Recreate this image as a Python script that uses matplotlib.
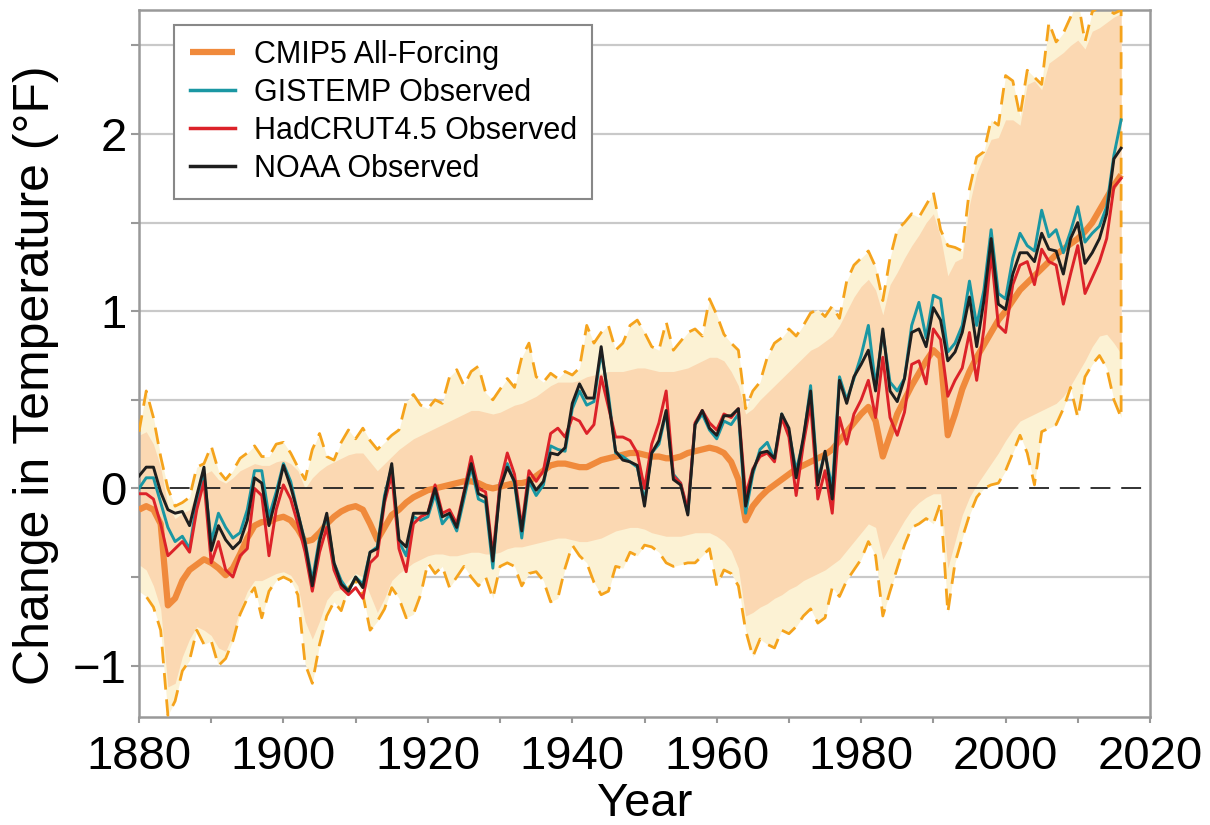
import numpy as np
import matplotlib.pyplot as plt
from matplotlib.ticker import FixedLocator

plt.rcParams['font.family'] = ['Liberation Sans', 'DejaVu Sans']

years = np.arange(1880, 2017)

# CMIP5 all-forcing multi-model mean (deg F)
cmip5_mean = [
    -0.12, -0.10, -0.12, -0.20, -0.66, -0.62, -0.52, -0.46, -0.43, -0.40,
    -0.42, -0.45, -0.49, -0.45, -0.37, -0.28, -0.21, -0.19, -0.19, -0.17,
    -0.16, -0.18, -0.23, -0.30, -0.29, -0.25, -0.20, -0.16, -0.13, -0.11,
    -0.10, -0.12, -0.20, -0.29, -0.22, -0.15, -0.12, -0.08, -0.05, -0.03,
    -0.01, 0.00, 0.01, 0.02, 0.03, 0.04, 0.04, 0.03, 0.01, 0.00,
    0.01, 0.02, 0.03, 0.03, 0.04, 0.07, 0.10, 0.13, 0.14, 0.14,
    0.13, 0.12, 0.12, 0.14, 0.16, 0.17, 0.18, 0.19, 0.20, 0.20,
    0.19, 0.18, 0.18, 0.17, 0.17, 0.18, 0.20, 0.21, 0.22, 0.23,
    0.22, 0.20, 0.15, 0.05, -0.18, -0.10, -0.05, -0.01, 0.02, 0.05,
    0.08, 0.11, 0.13, 0.15, 0.17, 0.19, 0.22, 0.27, 0.32, 0.37,
    0.42, 0.46, 0.38, 0.18, 0.30, 0.42, 0.50, 0.58, 0.65, 0.72,
    0.78, 0.74, 0.30, 0.42, 0.56, 0.66, 0.74, 0.81, 0.88, 0.95,
    1.00, 1.06, 1.12, 1.16, 1.20, 1.24, 1.28, 1.32, 1.35, 1.38,
    1.41, 1.45, 1.50, 1.57, 1.64, 1.71, 1.77,
]

# inner model range (shaded peach)
cmip5_hi = [
    0.30, 0.32, 0.25, 0.12, -0.10, -0.17, -0.14, -0.12, -0.02, 0.08,
    0.10, 0.05, 0.03, 0.06, 0.10, 0.12, 0.14, 0.13, 0.13, 0.15,
    0.16, 0.14, 0.10, 0.00, 0.06, 0.10, 0.13, 0.15, 0.17, 0.19,
    0.20, 0.20, 0.15, 0.10, 0.14, 0.18, 0.22, 0.25, 0.28, 0.30,
    0.32, 0.34, 0.36, 0.38, 0.40, 0.42, 0.44, 0.44, 0.43, 0.42,
    0.43, 0.45, 0.47, 0.48, 0.50, 0.52, 0.55, 0.58, 0.60, 0.60,
    0.60, 0.61, 0.63, 0.64, 0.65, 0.66, 0.66, 0.66, 0.67, 0.68,
    0.68, 0.67, 0.66, 0.66, 0.66, 0.67, 0.68, 0.70, 0.72, 0.74,
    0.74, 0.72, 0.66, 0.58, 0.42, 0.45, 0.50, 0.54, 0.58, 0.62,
    0.66, 0.70, 0.74, 0.78, 0.80, 0.83, 0.86, 0.92, 1.00, 1.08,
    1.14, 1.18, 1.12, 0.98, 1.15, 1.22, 1.30, 1.37, 1.43, 1.50,
    1.55, 1.42, 1.20, 1.28, 1.30, 1.60, 1.78, 1.88, 1.97, 1.98,
    2.08, 2.08, 2.05, 2.28, 2.30, 2.25, 2.40, 2.43, 2.46, 2.50,
    2.53, 2.48, 2.58, 2.60, 2.63, 2.66, 2.68,
]
cmip5_lo = [
    -0.43, -0.46, -0.55, -0.68, -1.12, -1.10, -0.95, -0.85, -0.78, -0.80,
    -0.83, -0.90, -0.92, -0.82, -0.68, -0.58, -0.52, -0.52, -0.50, -0.48,
    -0.47, -0.49, -0.55, -0.75, -0.85, -0.75, -0.63, -0.58, -0.57, -0.52,
    -0.48, -0.50, -0.60, -0.70, -0.62, -0.52, -0.48, -0.45, -0.42, -0.40,
    -0.38, -0.37, -0.37, -0.38, -0.38, -0.37, -0.36, -0.36, -0.37, -0.37,
    -0.36, -0.34, -0.33, -0.33, -0.32, -0.31, -0.30, -0.29, -0.28, -0.28,
    -0.29, -0.30, -0.30, -0.29, -0.28, -0.26, -0.24, -0.23, -0.22, -0.22,
    -0.23, -0.25, -0.26, -0.27, -0.27, -0.27, -0.26, -0.25, -0.25, -0.25,
    -0.27, -0.30, -0.35, -0.45, -0.72, -0.70, -0.67, -0.65, -0.62, -0.60,
    -0.57, -0.55, -0.52, -0.50, -0.48, -0.46, -0.43, -0.40, -0.35, -0.30,
    -0.25, -0.20, -0.22, -0.40, -0.32, -0.25, -0.18, -0.12, -0.08, -0.05,
    -0.03, -0.03, -0.45, -0.30, -0.15, -0.05, 0.02, 0.08, 0.14, 0.20,
    0.27, 0.33, 0.38, 0.40, 0.42, 0.44, 0.46, 0.48, 0.52, 0.58,
    0.65, 0.72, 0.80, 0.86, 0.87, 0.82, 0.76,
]

# full model envelope (dashed)
cmip5_max = [
    0.32, 0.55, 0.40, 0.18, 0.00, -0.10, -0.08, -0.05, 0.12, 0.14,
    0.24, 0.10, 0.05, 0.10, 0.17, 0.20, 0.24, 0.18, 0.18, 0.25,
    0.26, 0.20, 0.12, 0.05, 0.22, 0.31, 0.18, 0.16, 0.26, 0.33,
    0.28, 0.34, 0.27, 0.22, 0.26, 0.30, 0.33, 0.49, 0.53, 0.47,
    0.45, 0.50, 0.48, 0.63, 0.67, 0.58, 0.66, 0.69, 0.54, 0.50,
    0.56, 0.62, 0.57, 0.74, 0.82, 0.63, 0.60, 0.65, 0.62, 0.66,
    0.64, 0.68, 0.92, 0.82, 0.88, 0.92, 0.78, 0.82, 0.92, 0.95,
    0.88, 0.80, 0.78, 0.94, 0.78, 0.83, 0.88, 0.90, 0.86, 1.07,
    0.98, 0.87, 0.82, 0.78, 0.45, 0.55, 0.60, 0.74, 0.82, 0.85,
    0.90, 0.86, 0.92, 0.99, 1.01, 0.97, 1.03, 0.96, 1.17, 1.26,
    1.30, 1.34, 1.25, 1.06, 1.30, 1.46, 1.50, 1.55, 1.53, 1.60,
    1.67, 1.46, 1.37, 1.36, 1.34, 1.69, 1.87, 1.90, 2.08, 2.05,
    2.33, 2.30, 2.10, 2.36, 2.32, 2.28, 2.63, 2.52, 2.57, 2.66,
    2.76, 2.52, 2.69, 2.72, 2.71, 2.68, 2.70,
]
cmip5_min = [
    -0.58, -0.61, -0.67, -0.80, -1.28, -1.20, -1.03, -0.97, -0.80, -0.88,
    -0.86, -1.00, -0.96, -0.86, -0.71, -0.62, -0.56, -0.73, -0.58, -0.52,
    -0.50, -0.52, -0.60, -0.99, -1.10, -0.88, -0.72, -0.64, -0.69, -0.56,
    -0.52, -0.60, -0.80, -0.75, -0.68, -0.56, -0.62, -0.73, -0.71, -0.60,
    -0.42, -0.48, -0.44, -0.56, -0.50, -0.44, -0.50, -0.55, -0.50, -0.62,
    -0.44, -0.42, -0.44, -0.55, -0.48, -0.47, -0.52, -0.64, -0.62, -0.45,
    -0.32, -0.38, -0.42, -0.53, -0.60, -0.58, -0.44, -0.45, -0.36, -0.38,
    -0.32, -0.33, -0.36, -0.42, -0.44, -0.43, -0.42, -0.42, -0.38, -0.34,
    -0.55, -0.46, -0.48, -0.55, -0.80, -0.95, -0.85, -0.88, -0.90, -0.80,
    -0.82, -0.78, -0.72, -0.68, -0.76, -0.73, -0.56, -0.61, -0.52, -0.46,
    -0.40, -0.30, -0.38, -0.72, -0.58, -0.45, -0.32, -0.22, -0.20, -0.17,
    -0.20, -0.08, -0.70, -0.42, -0.28, -0.15, -0.05, 0.00, 0.02, 0.03,
    0.10, 0.20, 0.30, 0.20, 0.02, 0.32, 0.34, 0.36, 0.45, 0.57,
    0.40, 0.63, 0.70, 0.75, 0.68, 0.50, 0.40,
]

gistemp = [
    0.00, 0.06, 0.06, -0.08, -0.22, -0.30, -0.27, -0.34, -0.08, 0.08,
    -0.30, -0.14, -0.22, -0.28, -0.25, -0.12, 0.10, 0.10, -0.16, -0.02,
    0.14, 0.04, -0.14, -0.30, -0.52, -0.28, -0.16, -0.42, -0.52, -0.58,
    -0.50, -0.54, -0.36, -0.33, -0.04, 0.12, -0.30, -0.38, -0.16, -0.18,
    -0.16, -0.03, -0.20, -0.15, -0.24, -0.06, 0.12, -0.06, -0.08, -0.45,
    0.03, 0.14, 0.03, -0.28, 0.04, -0.04, 0.02, 0.24, 0.22, 0.21,
    0.45, 0.55, 0.47, 0.49, 0.77, 0.53, 0.20, 0.18, 0.15, 0.12,
    -0.07, 0.20, 0.25, 0.43, 0.08, 0.03, -0.14, 0.36, 0.42, 0.33,
    0.28, 0.38, 0.36, 0.42, -0.14, 0.08, 0.22, 0.26, 0.16, 0.42,
    0.32, 0.10, 0.27, 0.58, 0.05, 0.20, 0.00, 0.63, 0.50, 0.62,
    0.75, 0.92, 0.58, 0.88, 0.60, 0.55, 0.62, 0.92, 1.05, 0.85,
    1.09, 1.07, 0.77, 0.82, 0.92, 1.17, 0.92, 1.12, 1.46, 1.10,
    1.07, 1.30, 1.44, 1.37, 1.34, 1.57, 1.42, 1.46, 1.33, 1.45,
    1.59, 1.39, 1.44, 1.48, 1.59, 1.88, 2.08,
]

hadcrut = [
    -0.03, -0.03, -0.06, -0.20, -0.38, -0.34, -0.30, -0.36, -0.12, 0.04,
    -0.42, -0.30, -0.46, -0.50, -0.38, -0.34, 0.00, -0.04, -0.38, -0.12,
    0.02, -0.06, -0.20, -0.36, -0.58, -0.36, -0.22, -0.46, -0.56, -0.60,
    -0.56, -0.62, -0.42, -0.38, -0.08, 0.08, -0.34, -0.47, -0.20, -0.16,
    -0.14, 0.02, -0.14, -0.12, -0.20, -0.02, 0.18, 0.00, -0.02, -0.38,
    0.03, 0.20, 0.08, -0.22, 0.10, 0.04, 0.10, 0.31, 0.34, 0.29,
    0.40, 0.38, 0.31, 0.36, 0.63, 0.46, 0.29, 0.29, 0.27, 0.20,
    0.00, 0.25, 0.37, 0.55, 0.07, 0.03, -0.12, 0.37, 0.44, 0.37,
    0.33, 0.42, 0.40, 0.45, -0.04, 0.11, 0.18, 0.20, 0.15, 0.40,
    0.29, -0.04, 0.25, 0.48, -0.06, 0.10, -0.14, 0.40, 0.25, 0.42,
    0.50, 0.61, 0.40, 0.74, 0.40, 0.30, 0.43, 0.70, 0.72, 0.59,
    0.90, 0.84, 0.52, 0.61, 0.68, 0.88, 0.61, 0.90, 1.33, 0.92,
    0.88, 1.15, 1.26, 1.28, 1.15, 1.35, 1.28, 1.26, 1.04, 1.21,
    1.37, 1.10, 1.19, 1.28, 1.41, 1.70, 1.75,
]

noaa = [
    0.07, 0.12, 0.12, -0.02, -0.12, -0.14, -0.13, -0.21, -0.04, 0.12,
    -0.35, -0.21, -0.29, -0.34, -0.30, -0.18, 0.06, 0.03, -0.21, -0.05,
    0.13, 0.01, -0.14, -0.31, -0.55, -0.30, -0.14, -0.42, -0.54, -0.58,
    -0.50, -0.56, -0.36, -0.34, -0.06, 0.14, -0.29, -0.33, -0.14, -0.14,
    -0.14, 0.00, -0.16, -0.14, -0.22, -0.03, 0.14, -0.03, -0.05, -0.41,
    0.00, 0.12, 0.04, -0.24, 0.06, -0.01, 0.04, 0.20, 0.19, 0.23,
    0.48, 0.59, 0.51, 0.51, 0.80, 0.50, 0.21, 0.16, 0.15, 0.13,
    -0.10, 0.20, 0.27, 0.44, 0.05, 0.02, -0.15, 0.36, 0.44, 0.34,
    0.30, 0.41, 0.41, 0.45, -0.10, 0.10, 0.20, 0.21, 0.17, 0.42,
    0.34, 0.06, 0.29, 0.55, 0.02, 0.21, -0.06, 0.61, 0.48, 0.63,
    0.70, 0.78, 0.55, 0.90, 0.55, 0.49, 0.62, 0.88, 0.90, 0.80,
    1.02, 0.95, 0.72, 0.77, 0.88, 1.08, 0.80, 1.06, 1.41, 1.04,
    1.01, 1.21, 1.33, 1.33, 1.28, 1.44, 1.35, 1.34, 1.21, 1.41,
    1.50, 1.27, 1.33, 1.41, 1.55, 1.86, 1.92,
]

fig = plt.figure(figsize=(12.1, 8.25), dpi=100)
ax = fig.add_axes([139 / 1210, 1 - 717 / 825, 1011 / 1210, 707 / 825])

# horizontal grid every 0.5 (zero gets its own dashed line)
for g in [-1.0, -0.5, 0.5, 1.0, 1.5, 2.0, 2.5]:
    ax.axhline(g, color='#c9c9c9', lw=1.6, zorder=0)

# model spread
ax.fill_between(years, cmip5_min, cmip5_max, color='#fcf2d4', lw=0, zorder=1)
ax.fill_between(years, cmip5_lo, cmip5_hi, color='#fbd8b2', lw=0, zorder=2)
env_x = np.concatenate([years, years[::-1]])
env_y = np.concatenate([cmip5_max, cmip5_min[::-1]])
ax.plot(env_x, env_y, color='#f5a31c', lw=2.0, dashes=(6, 3.5), zorder=3)

ax.axhline(0, color='#222222', lw=1.3, dashes=(11, 6), zorder=4)

ax.plot(years, cmip5_mean, color='#f08a3c', lw=4.5, solid_capstyle='butt',
        label='CMIP5 All-Forcing', zorder=5)
ax.plot(years, gistemp, color='#1a97a3', lw=2.1, label='GISTEMP Observed', zorder=6)
ax.plot(years, hadcrut, color='#dc2229', lw=2.1, label='HadCRUT4.5 Observed', zorder=7)
ax.plot(years, noaa, color='#1e1e1e', lw=2.1, label='NOAA Observed', zorder=8)

ax.set_xlim(1880, 2020)
ax.set_ylim(-1.29, 2.70)

ax.set_xticks(range(1880, 2021, 20))
ax.xaxis.set_minor_locator(FixedLocator(range(1890, 2020, 20)))
ax.set_yticks([-1, 0, 1, 2])
ax.set_yticklabels(['\u22121', '0', '1', '2'])
ax.yaxis.set_minor_locator(FixedLocator([-0.5, 0.5, 1.5, 2.5]))

ax.tick_params(axis='both', which='both', direction='out', color='#999999',
               width=1.5, labelsize=34)
ax.tick_params(axis='x', which='both', length=4, pad=9)
ax.tick_params(axis='y', which='both', length=6, pad=3)

for s in ax.spines.values():
    s.set_color('#999999')
    s.set_linewidth(1.8)

ax.set_xlabel('Year', fontsize=34, labelpad=2)
ax.set_ylabel('Change in Temperature (\u00b0F)', fontsize=36)
ax.yaxis.set_label_coords(-0.079, 0.484)

leg = ax.legend(loc='upper left', bbox_to_anchor=(0.035, 0.979), borderaxespad=0,
                fontsize=22, frameon=True, fancybox=False, framealpha=1,
                edgecolor='#888888', handlelength=1.5, handletextpad=0.6,
                borderpad=0.5, labelspacing=0.26)
leg.get_frame().set_linewidth(1.5)
for line in leg.get_lines():
    if line.get_label() != 'CMIP5 All-Forcing':
        line.set_linewidth(2.5)

fig.savefig('out.png', dpi=100)
